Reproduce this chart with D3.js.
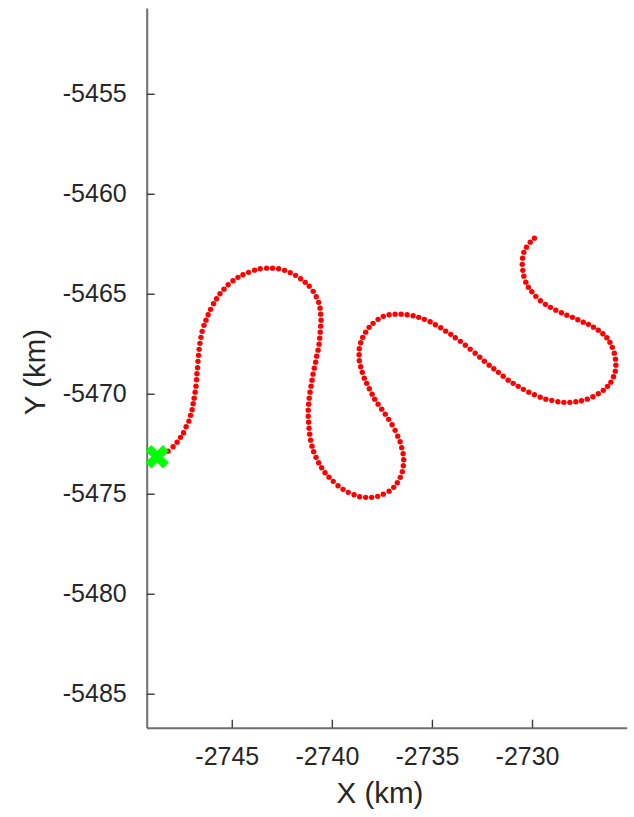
<!DOCTYPE html>
<html>
<head>
<meta charset="utf-8">
<script src="https://cdn.jsdelivr.net/npm/d3@7"></script>
<style>
  html, body { margin: 0; padding: 0; background: #fff; }
  svg { display: block; }
  .axis text { font-family: Helvetica, Arial, 'Liberation Sans', sans-serif; font-size: 25px; fill: #262626; }
  .axis-label { font-family: Helvetica, Arial, 'Liberation Sans', sans-serif; font-size: 29.5px; fill: #262626; }
</style>
</head>
<body>
<div id="chart"></div>
<script>
// DATA (km)
const xTicks = [-2745, -2740, -2735, -2730];
const yTicks = [-5485, -5480, -5475, -5470, -5465, -5460, -5455];

const startX = [-2748.73];
const startY = [-5473.15];

const trackX = [
  -2748.18, -2747.93, -2747.73, -2747.56, -2747.41, -2747.28, -2747.14, -2747.06, -2746.98, -2746.93,
  -2746.88, -2746.83, -2746.79, -2746.76, -2746.74, -2746.71, -2746.69, -2746.66, -2746.63, -2746.59,
  -2746.54, -2746.48, -2746.39, -2746.29, -2746.18, -2746.06, -2745.91, -2745.76, -2745.59, -2745.39,
  -2745.18, -2744.94, -2744.69, -2744.44, -2744.16, -2743.86, -2743.58, -2743.26, -2742.96, -2742.66,
  -2742.36, -2742.08, -2741.81, -2741.56, -2741.33, -2741.13, -2740.93, -2740.78, -2740.66, -2740.59,
  -2740.56, -2740.54, -2740.56, -2740.58, -2740.61, -2740.64, -2740.69, -2740.76, -2740.81, -2740.88,
  -2740.94, -2740.99, -2741.04, -2741.09, -2741.13, -2741.16, -2741.18, -2741.18, -2741.16, -2741.14,
  -2741.11, -2741.06, -2740.99, -2740.91, -2740.79, -2740.66, -2740.51, -2740.34, -2740.14, -2739.93,
  -2739.69, -2739.44, -2739.18, -2738.89, -2738.61, -2738.31, -2738.01, -2737.71, -2737.43, -2737.14,
  -2736.91, -2736.73, -2736.58, -2736.48, -2736.43, -2736.41, -2736.44, -2736.51, -2736.59, -2736.71,
  -2736.84, -2736.99, -2737.16, -2737.33, -2737.51, -2737.69, -2737.86, -2737.99, -2738.13, -2738.26,
  -2738.38, -2738.48, -2738.56, -2738.63, -2738.64, -2738.63, -2738.56, -2738.46, -2738.31, -2738.14,
  -2737.94, -2737.69, -2737.43, -2737.14, -2736.84, -2736.54, -2736.24, -2735.94, -2735.66, -2735.38,
  -2735.09, -2734.83, -2734.56, -2734.31, -2734.06, -2733.83, -2733.58, -2733.33, -2733.09, -2732.84,
  -2732.61, -2732.38, -2732.14, -2731.91, -2731.68, -2731.44, -2731.19, -2730.94, -2730.69, -2730.43,
  -2730.16, -2729.88, -2729.59, -2729.31, -2729.01, -2728.71, -2728.41, -2728.11, -2727.81, -2727.53,
  -2727.24, -2726.96, -2726.69, -2726.44, -2726.23, -2726.06, -2725.93, -2725.84, -2725.81, -2725.83,
  -2725.89, -2725.99, -2726.11, -2726.26, -2726.46, -2726.69, -2726.93, -2727.18, -2727.44, -2727.71,
  -2727.98, -2728.26, -2728.53, -2728.81, -2729.08, -2729.33, -2729.58, -2729.81, -2730.01, -2730.18,
  -2730.31, -2730.41, -2730.46, -2730.49, -2730.47, -2730.41, -2730.28, -2730.09, -2729.88
];

const trackY = [
  -5472.87, -5472.65, -5472.42, -5472.18, -5471.95, -5471.65, -5471.37, -5471.08, -5470.80, -5470.50,
  -5470.22, -5469.92, -5469.62, -5469.30, -5469.00, -5468.70, -5468.38, -5468.08, -5467.78, -5467.48,
  -5467.18, -5466.88, -5466.58, -5466.32, -5466.05, -5465.78, -5465.50, -5465.25, -5465.00, -5464.77,
  -5464.55, -5464.35, -5464.18, -5464.05, -5463.93, -5463.82, -5463.75, -5463.72, -5463.72, -5463.75,
  -5463.83, -5463.95, -5464.08, -5464.25, -5464.43, -5464.62, -5464.88, -5465.15, -5465.43, -5465.72,
  -5466.02, -5466.32, -5466.62, -5466.92, -5467.22, -5467.52, -5467.82, -5468.12, -5468.42, -5468.72,
  -5469.02, -5469.32, -5469.62, -5469.92, -5470.22, -5470.52, -5470.82, -5471.12, -5471.42, -5471.72,
  -5472.02, -5472.32, -5472.62, -5472.90, -5473.18, -5473.45, -5473.70, -5473.95, -5474.17, -5474.38,
  -5474.60, -5474.78, -5474.93, -5475.05, -5475.15, -5475.18, -5475.18, -5475.13, -5475.02, -5474.87,
  -5474.68, -5474.45, -5474.18, -5473.90, -5473.60, -5473.30, -5473.00, -5472.70, -5472.40, -5472.12,
  -5471.83, -5471.55, -5471.28, -5471.02, -5470.77, -5470.52, -5470.27, -5470.02, -5469.75, -5469.48,
  -5469.22, -5468.93, -5468.65, -5468.35, -5468.05, -5467.75, -5467.45, -5467.18, -5466.92, -5466.68,
  -5466.48, -5466.28, -5466.13, -5466.05, -5466.02, -5466.02, -5466.05, -5466.10, -5466.18, -5466.28,
  -5466.40, -5466.55, -5466.70, -5466.87, -5467.03, -5467.20, -5467.38, -5467.57, -5467.77, -5467.97,
  -5468.17, -5468.37, -5468.57, -5468.75, -5468.93, -5469.12, -5469.32, -5469.48, -5469.63, -5469.78,
  -5469.92, -5470.05, -5470.17, -5470.27, -5470.33, -5470.40, -5470.43, -5470.43, -5470.40, -5470.35,
  -5470.27, -5470.15, -5470.00, -5469.83, -5469.63, -5469.42, -5469.15, -5468.87, -5468.57, -5468.27,
  -5467.97, -5467.68, -5467.43, -5467.20, -5467.00, -5466.82, -5466.67, -5466.53, -5466.42, -5466.30,
  -5466.18, -5466.07, -5465.95, -5465.82, -5465.68, -5465.53, -5465.35, -5465.13, -5464.90, -5464.67,
  -5464.42, -5464.12, -5463.83, -5463.53, -5463.22, -5462.93, -5462.67, -5462.42, -5462.22
];

///// CHART
const width = 634;
const height = 817;
const plot = { left: 146.7, right: 626.7, top: 8, bottom: 727.7 };

const svg = d3.select('#chart').append('svg')
  .attr('width', width)
  .attr('height', height);

// SCALES
const x = d3.scaleLinear()
  .domain([-2749.25, -2725.27])
  .range([plot.left, plot.right]);

const y = d3.scaleLinear()
  .domain([-5486.70, -5450.71])
  .range([plot.bottom, plot.top]);

// X AXIS
const xAxis = svg.append('g')
  .attr('class', 'axis')
  .attr('transform', `translate(0, ${plot.bottom})`)
  .call(d3.axisBottom(x)
    .tickValues(xTicks)
    .tickSizeInner(-8)
    .tickSizeOuter(0)
    .tickPadding(19.5)
    .tickFormat(d => String(d)));

xAxis.selectAll('text').attr('dx', -5);

// Y AXIS
const yAxis = svg.append('g')
  .attr('class', 'axis')
  .attr('transform', `translate(${plot.left}, 0)`)
  .call(d3.axisLeft(y)
    .tickValues(yTicks)
    .tickSizeInner(-8)
    .tickSizeOuter(0)
    .tickPadding(20)
    .tickFormat(d => String(d)));

svg.selectAll('.axis .domain').attr('stroke', '#6e6e6e').attr('stroke-width', 2);
svg.selectAll('.axis .tick line').attr('stroke', '#3a3a3a').attr('stroke-width', 1.4);
svg.selectAll('.axis text').attr('fill', '#262626');

// AXIS LABELS
svg.append('text')
  .attr('class', 'axis-label')
  .attr('x', 380)
  .attr('y', 803)
  .attr('text-anchor', 'middle')
  .text('X (km)');

svg.append('text')
  .attr('class', 'axis-label')
  .attr('transform', 'translate(45, 372) rotate(-90)')
  .attr('text-anchor', 'middle')
  .text('Y (km)');

// TRACK DOTS
const track = trackX.map((d, i) => ({ x: d, y: trackY[i] }));

svg.append('g')
  .selectAll('circle')
  .data(track)
  .enter()
  .append('circle')
  .attr('cx', d => x(d.x))
  .attr('cy', d => y(d.y))
  .attr('r', 2.7)
  .attr('fill', '#ff0000');

// START MARKER
svg.append('g')
  .selectAll('path')
  .data(startX.map((d, i) => ({ x: d, y: startY[i] })))
  .enter()
  .append('path')
  .attr('d', d3.symbol().type(d3.symbolCross).size(340))
  .attr('transform', d => `translate(${x(d.x)}, ${y(d.y)}) rotate(45)`)
  .attr('fill', '#00ff00');
</script>
</body>
</html>
